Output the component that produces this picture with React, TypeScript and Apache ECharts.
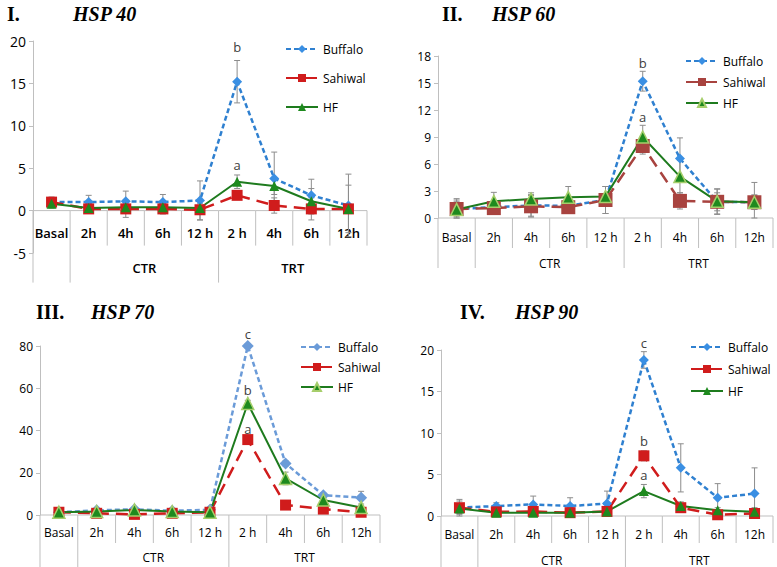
import React, { useEffect, useRef } from "react";
import * as echarts from "echarts";

// ---------- data ----------
const categories = ["Basal", "2h", "4h", "6h", "12 h", "2 h", "4h", "6h", "12h"];
const groupNames = ["", "CTR", "TRT"];
const groupFrom = [0, 1, 5];
const groupTo = [0, 4, 8];
const seriesNames = ["Buffalo", "Sahiwal", "HF"];

const hsp40Buffalo = [1.0, 1.0, 1.1, 1.0, 1.2, 15.2, 3.8, 1.8, 0.6];
const hsp40BuffaloErr = [0.6, 0.8, 1.2, 0.9, 2.3, 2.5, 3.1, 1.9, 3.7];
const hsp40Sahiwal = [1.0, 0.2, 0.2, 0.2, 0.1, 1.8, 0.6, 0.2, 0.2];
const hsp40SahiwalErr = [0.5, 0.3, 1.0, 0.6, 1.2, 0.5, 0.9, 1.3, 0.3];
const hsp40HF = [0.8, 0.3, 0.4, 0.4, 0.3, 3.4, 2.9, 1.1, 0.2];
const hsp40HFErr = [0.5, 0.3, 0.5, 0.5, 0.5, 0.8, 1.0, 1.5, 2.8];
const hsp40Letters = ["b", "a"];
const hsp40LetterX = [5, 5];
const hsp40LetterY = [19.3, 5.4];

const hsp60Buffalo = [1.0, 1.2, 1.4, 1.35, 2.0, 15.2, 6.6, 1.8, 1.75];
const hsp60BuffaloErr = [1.0, 0.5, 1.2, 0.5, 1.5, 1.1, 2.3, 1.4, 2.2];
const hsp60Sahiwal = [1.0, 1.1, 1.3, 1.2, 2.0, 8.0, 1.9, 1.8, 1.75];
const hsp60SahiwalErr = [0.8, 0.5, 1.2, 0.5, 1.5, 0.9, 0.9, 1.0, 0.8];
const hsp60HF = [0.95, 1.85, 2.1, 2.3, 2.4, 9.0, 4.6, 1.85, 1.75];
const hsp60HFErr = [1.2, 1.0, 0.7, 1.2, 1.1, 1.3, 1.8, 1.4, 0.8];
const hsp60Letters = ["b", "a"];
const hsp60LetterX = [5, 5];
const hsp60LetterY = [17.2, 11.2];

const hsp70Buffalo = [1.3, 2.2, 2.7, 2.0, 2.5, 80, 24.4, 9.4, 8.2];
const hsp70BuffaloErr = [0.5, 0.5, 0.6, 0.5, 0.8, 1.0, 1.2, 1.0, 3.0];
const hsp70Sahiwal = [1.3, 0.8, 0.3, 0.8, 1.3, 35.7, 4.7, 2.8, 1.3];
const hsp70SahiwalErr = [0.5, 0.3, 0.3, 0.3, 0.3, 1.5, 0.5, 0.5, 0.5];
const hsp70HF = [1.3, 1.6, 2.4, 1.6, 1.3, 52.8, 17.3, 7.1, 3.6];
const hsp70HFErr = [0.5, 0.5, 0.5, 0.5, 0.5, 1.5, 3.0, 0.8, 0.8];
const hsp70Letters = ["c", "b", "a"];
const hsp70LetterX = [5, 5, 5];
const hsp70LetterY = [85.8, 59, 40.5];

const hsp90Buffalo = [1.0, 1.2, 1.4, 1.2, 1.5, 18.8, 5.8, 2.2, 2.7];
const hsp90BuffaloErr = [1.0, 0.4, 1.0, 1.0, 1.5, 1.0, 2.9, 1.7, 3.1];
const hsp90Sahiwal = [1.0, 0.5, 0.55, 0.4, 0.55, 7.25, 1.0, 0.15, 0.3];
const hsp90SahiwalErr = [0.8, 0.2, 0.2, 0.2, 0.3, 0.6, 0.3, 0.2, 0.3];
const hsp90HF = [0.9, 0.4, 0.4, 0.4, 0.55, 3.0, 1.2, 0.7, 0.5];
const hsp90HFErr = [0.6, 0.2, 0.2, 0.2, 0.2, 0.8, 0.5, 0.3, 0.5];
const hsp90Letters = ["c", "b", "a"];
const hsp90LetterX = [5, 5, 5];
const hsp90LetterY = [20.8, 9.0, 5.0];

// ---------- layout / style ----------
const FONT = '"Open Sans", "DejaVu Sans", sans-serif';
const SERIF = '"Liberation Serif", "DejaVu Serif", serif';
const GRAY = "#BFBFBF";

const panels = [
  {
    roman: "I.", gene: "HSP 40", box: { x: 0, y: 0, w: 389, h: 283 },
    grid: { left: 33, top: 41, width: 334, height: 212 },
    min: -5, max: 20, interval: 5,
    values: [hsp40Buffalo, hsp40Sahiwal, hsp40HF], errs: [hsp40BuffaloErr, hsp40SahiwalErr, hsp40HFErr],
    letters: hsp40Letters, letterX: hsp40LetterX, letterY: hsp40LetterY,
    titleY: 14, romanX: 7, geneX: 73,
    tickLen: 35, labelOff: 22, groupOff: 57, longLen: 72, catFont: 13, yFont: 14, catWeight: 600,
    legend: { left: 285, top: 43, gap: 17 },
    colors: ["#2F80D0", "#D01C1C", "#1E7B1E"], marker: ["#3A8FE3", "#D01C1C", "#1E8A1E"],
    hfBorder: null, sizes: [10, 11, 10],
  },
  {
    roman: "II.", gene: "HSP 60", box: { x: 389, y: 0, w: 388, h: 283 },
    grid: { left: 49, top: 56, width: 335, height: 162 },
    min: 0, max: 18, interval: 3,
    values: [hsp60Buffalo, hsp60Sahiwal, hsp60HF], errs: [hsp60BuffaloErr, hsp60SahiwalErr, hsp60HFErr],
    letters: hsp60Letters, letterX: hsp60LetterX, letterY: hsp60LetterY,
    titleY: 14, romanX: 53, geneX: 103,
    tickLen: 30, labelOff: 19, groupOff: 45, longLen: 50, catFont: 12, yFont: 12, catWeight: 400,
    legend: { left: 296, top: 55, gap: 9 },
    colors: ["#2F80D0", "#A8433F", "#1E7B1E"], marker: ["#3A8FE3", "#A8433F", "#1E8A1E"],
    hfBorder: "#A6CE6B", sizes: [10, 14, 12],
  },
  {
    roman: "III.", gene: "HSP 70", box: { x: 0, y: 283, w: 389, h: 284 },
    grid: { left: 40, top: 63, width: 340, height: 169 },
    min: 0, max: 80, interval: 20,
    values: [hsp70Buffalo, hsp70Sahiwal, hsp70HF], errs: [hsp70BuffaloErr, hsp70SahiwalErr, hsp70HFErr],
    letters: hsp70Letters, letterX: hsp70LetterX, letterY: hsp70LetterY,
    titleY: 29, romanX: 36, geneX: 91,
    tickLen: 28, labelOff: 17, groupOff: 42, longLen: 52, catFont: 12, yFont: 12, catWeight: 400,
    legend: { left: 300, top: 58, gap: 8 },
    colors: ["#6B9BD8", "#D01C1C", "#1E7B1E"], marker: ["#6B9BD8", "#D01C1C", "#1E8A1E"],
    hfBorder: "#A6CE6B", sizes: [12, 11, 12],
  },
  {
    roman: "IV.", gene: "HSP 90", box: { x: 389, y: 283, w: 388, h: 284 },
    grid: { left: 52, top: 67, width: 332, height: 166 },
    min: 0, max: 20, interval: 5,
    values: [hsp90Buffalo, hsp90Sahiwal, hsp90HF], errs: [hsp90BuffaloErr, hsp90SahiwalErr, hsp90HFErr],
    letters: hsp90Letters, letterX: hsp90LetterX, letterY: hsp90LetterY,
    titleY: 29, romanX: 71, geneX: 126,
    tickLen: 27, labelOff: 18, groupOff: 44, longLen: 52, catFont: 12, yFont: 12, catWeight: 400,
    legend: { left: 301, top: 58, gap: 10 },
    colors: ["#2F80D0", "#D01C1C", "#1E7B1E"], marker: ["#3A8FE3", "#D01C1C", "#1E8A1E"],
    hfBorder: null, sizes: [10, 11, 10],
  },
];

function buildOption(p: any) {
  const symbols = ["diamond", "rect", "triangle"];
  const dashes: any[] = [[5, 3], [12, 7], "solid"];
  const lineSeries = seriesNames.map((name, k) => ({
    type: "line",
    name,
    data: p.values[k],
    symbol: symbols[k],
    symbolSize: p.sizes[k],
    showAllSymbol: true,
    lineStyle: { color: p.colors[k], width: k === 2 ? 2 : 2.5, type: dashes[k] },
    itemStyle: {
      color: p.marker[k],
      borderColor: k === 2 && p.hfBorder ? p.hfBorder : p.marker[k],
      borderWidth: k === 2 && p.hfBorder ? 1.5 : 0,
    },
    z: 4,
  }));

  const errSeries = seriesNames.map((name, k) => ({
    type: "custom",
    name: "err " + name,
    silent: true,
    z: 3,
    data: p.values[k].map((v: number, i: number) => [i, Math.max(v - p.errs[k][i], p.min), v + p.errs[k][i]]),
    renderItem: (params: any, api: any) => {
      const x = api.value(0);
      const lo = api.coord([x, api.value(1)]);
      const hi = api.coord([x, api.value(2)]);
      const w = 3;
      const st = { stroke: "#8C8C8C", lineWidth: 1 };
      return {
        type: "group",
        children: [
          { type: "line", shape: { x1: lo[0], y1: lo[1], x2: hi[0], y2: hi[1] }, style: st },
          { type: "line", shape: { x1: hi[0] - w, y1: hi[1], x2: hi[0] + w, y2: hi[1] }, style: st },
          { type: "line", shape: { x1: lo[0] - w, y1: lo[1], x2: lo[0] + w, y2: lo[1] }, style: st },
        ],
      };
    },
  }));

  // category axis drawn through the scale: axis line, separators, labels, group labels
  const frameSeries = {
    type: "custom",
    name: "frame",
    silent: true,
    z: 1,
    data: categories.map((c, i) => [i, 0]),
    renderItem: (params: any, api: any) => {
      const i = api.value(0);
      const c = api.coord([i, 0]);
      const band = api.size([1, 0])[0];
      const xl = c[0] - band / 2;
      const xr = c[0] + band / 2;
      const y0 = c[1];
      const g = groupFrom.indexOf(i);
      const st = { stroke: GRAY, lineWidth: 1 };
      const font = `${p.catWeight} ${p.catFont}px ${FONT}`;
      const children: any[] = [
        { type: "line", shape: { x1: xl, y1: y0, x2: xr, y2: y0 }, style: st },
        { type: "line", shape: { x1: xl, y1: y0, x2: xl, y2: y0 + (g >= 0 ? p.longLen : p.tickLen) }, style: st },
        {
          type: "text", x: c[0], y: y0 + p.labelOff,
          style: { text: categories[i], fill: "#000", font, align: "center", verticalAlign: "middle" },
        },
      ];
      if (i === categories.length - 1) {
        children.push({ type: "line", shape: { x1: xr, y1: y0, x2: xr, y2: y0 + p.tickLen }, style: st });
      }
      if (g >= 0 && groupNames[g]) {
        const e = api.coord([groupTo[g], 0]);
        const cx = (xl + e[0] + band / 2) / 2;
        children.push({
          type: "text", x: cx, y: y0 + p.groupOff,
          style: { text: groupNames[g], fill: "#000", font, align: "center", verticalAlign: "middle" },
        });
      }
      return { type: "group", children };
    },
  };

  const letterSeries = {
    type: "custom",
    name: "letters",
    silent: true,
    z: 5,
    data: p.letterX.map((x: number, i: number) => [x, p.letterY[i]]),
    renderItem: (params: any, api: any) => {
      const c = api.coord([api.value(0), api.value(1)]);
      return {
        type: "text",
        x: c[0],
        y: c[1],
        style: {
          text: p.letters[params.dataIndex],
          fill: "#404040",
          font: `13px ${FONT}`,
          align: "center",
          verticalAlign: "middle",
        },
      };
    },
  };

  return {
    animation: false,
    backgroundColor: "#fff",
    textStyle: { fontFamily: FONT },
    graphic: [
      { type: "text", x: p.romanX, y: p.titleY, style: { text: p.roman, font: `bold 20px ${SERIF}`, fill: "#000", verticalAlign: "middle" } },
      { type: "text", x: p.geneX, y: p.titleY, style: { text: p.gene, font: `italic bold 20px ${SERIF}`, fill: "#000", verticalAlign: "middle" } },
    ],
    legend: {
      orient: "vertical",
      left: p.legend.left,
      top: p.legend.top,
      padding: 0,
      itemWidth: 32,
      itemHeight: 10,
      itemGap: p.legend.gap,
      data: seriesNames,
      textStyle: { fontSize: 12, color: "#000", fontFamily: FONT },
    },
    grid: { ...p.grid },
    xAxis: {
      type: "category",
      data: categories,
      boundaryGap: true,
      axisLine: { show: false },
      axisTick: { show: false },
      axisLabel: { show: false },
      splitLine: { show: false },
    },
    yAxis: {
      type: "value",
      min: p.min,
      max: p.max,
      interval: p.interval,
      axisLine: { show: true, lineStyle: { color: GRAY } },
      axisTick: { show: true, length: 4, lineStyle: { color: GRAY } },
      axisLabel: { color: "#000", fontSize: p.yFont, fontFamily: FONT, margin: 7 },
      splitLine: { show: false },
    },
    series: [frameSeries, ...errSeries, ...lineSeries, letterSeries],
  };
}

function Panel({ p }: { p: any }) {
  const ref = useRef<HTMLDivElement>(null);
  useEffect(() => {
    const chart = echarts.init(ref.current!, null, { renderer: "svg" });
    chart.setOption(buildOption(p));
    return () => chart.dispose();
  }, [p]);
  return (
    <div
      ref={ref}
      style={{ position: "absolute", left: p.box.x, top: p.box.y, width: p.box.w, height: p.box.h }}
    />
  );
}

export default function App() {
  return (
    <div style={{ position: "absolute", left: 0, top: 0, width: 777, height: 567, background: "#fff", overflow: "hidden" }}>
      {panels.map((p) => (
        <Panel key={p.gene} p={p} />
      ))}
    </div>
  );
}
